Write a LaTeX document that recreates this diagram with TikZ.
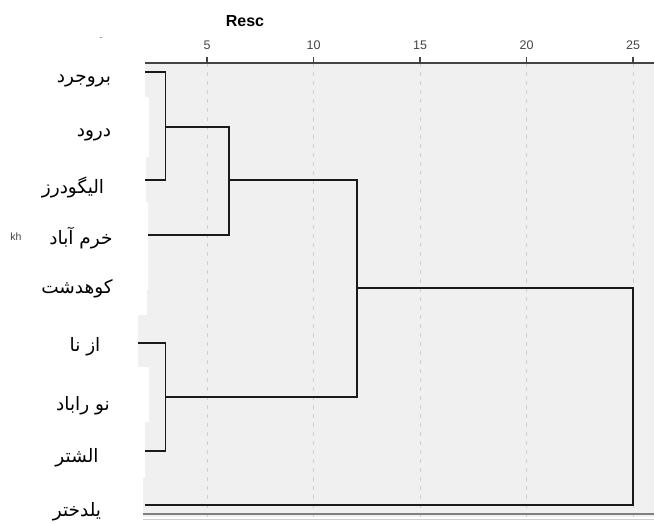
\documentclass[tikz,border=0pt]{standalone}
\usepackage{fontspec}
\setmainfont{Liberation Sans}
\newfontfamily\arabicfont[Script=Arabic]{DejaVu Sans}
\TeXXeTstate=1
\definecolor{plotbg}{HTML}{F0F0F0}
\definecolor{gridc}{HTML}{CFCFCF}
\definecolor{axisc}{HTML}{444444}
\definecolor{treec}{HTML}{1A1A1A}
\tikzset{
  leaflabel/.style={font=\arabicfont\fontsize{18.5}{20}\selectfont, inner sep=0pt, text=black},
  ticklabel/.style={font=\fontsize{12.5}{14}\selectfont, inner sep=0pt, text=axisc},
  gridline/.style={draw=gridc, line width=1pt, dash pattern=on 4pt off 5pt},
  tickmark/.style={draw=axisc, line width=1.5pt},
  branch/.style={draw=treec, line width=1.4pt},
  blank/.style={fill=white, draw=none},
}
\newcommand{\rtl}[1]{\arabicfont\beginR #1\endR}
\begin{document}
\begin{tikzpicture}[x=1pt,y=-1pt]
\useasboundingbox (0,0) rectangle (654,524);

% plot background with white strips along its left edge
\fill[plotbg] (138,63) rectangle (654,517);
\fill[blank] (138,63) rectangle (145,97);
\fill[blank] (138,97) rectangle (149,157);
\fill[blank] (138,157) rectangle (146,202);
\fill[blank] (138,202) rectangle (148,290);
\fill[blank] (138,290) rectangle (147,315);
\fill[blank] (138,367) rectangle (149,422);
\fill[blank] (138,422) rectangle (145,478);
\fill[blank] (138,478) rectangle (143,524);

% rescaled distance axis: x = 100.5 + 21.3 v
\foreach \v/\lab in {5/5,10/10,15/15,20/20,25/25}{
  \coordinate (g\v) at ({100.5+21.3*\v},63);
  \coordinate (gb\v) at ({100.5+21.3*\v},517);
  \coordinate (gt\v) at ({100.5+21.3*\v},57);
  \draw[gridline] (g\v) -- (gb\v);
  \draw[tickmark] (gt\v) -- (g\v);
  \node[ticklabel] (t\v) at ({100.5+21.3*\v},45) {\lab};
}
\coordinate (axL) at (145,63);
\coordinate (axR) at (654,63);
\draw[draw=axisc, line width=1.5pt] (axL) -- (axR);

% lower frame lines
\coordinate (fbL) at (143,514);
\coordinate (fbR) at (654,514);
\draw[draw=gray, line width=1.5pt] (fbL) -- (fbR);
\coordinate (flL) at (143,519);
\coordinate (flR) at (654,519);
\draw[draw=gridc, line width=1pt] (flL) -- (flR);

% title and stray marks
\node[font=\bfseries\fontsize{16}{18}\selectfont, inner sep=0pt] (title) at (245,21) {Resc};
\node[font=\fontsize{10}{12}\selectfont, inner sep=0pt, text=gray] (dashmark) at (101,39) {-};
\node[font=\fontsize{10.5}{12}\selectfont, inner sep=0pt, text=axisc] (kh) at (16,237) {kh};

% leaf labels
\node[leaflabel] (l1) at (84,81) {\rtl{بروجرد}};
\node[leaflabel] (l2) at (94,135) {\rtl{درود}};
\node[leaflabel] (l3) at (73,187) {\rtl{اليگودرز}};
\node[leaflabel] (l4) at (81,238) {\rtl{خرم آباد}};
\node[leaflabel] (l5) at (77,289) {\rtl{کوهدشت}};
\node[leaflabel] (l6) at (85,347) {\rtl{از نا}};
\node[leaflabel] (l7) at (83,406) {\rtl{نو راباد}};
\node[leaflabel] (l8) at (77,458) {\rtl{الشتر}};
\node[leaflabel] (l9) at (77,512) {\rtl{يلدختر}};

% leaf ends
\coordinate (e1) at (145,72);
\coordinate (e3) at (145,180);
\coordinate (e4) at (148,235);
\coordinate (e6) at (138,343);
\coordinate (e8) at (145,451);
\coordinate (e9) at (145,505);

% merge levels 3, 6, 12, 25
\coordinate (a1) at (165.7,72);
\coordinate (a3) at (165.7,180);
\coordinate (am) at (165.7,127);
\coordinate (b1) at (229,127);
\coordinate (b4) at (229,235);
\coordinate (bm) at (229,180);
\coordinate (c1) at (357,180);
\coordinate (c2) at (357,397);
\coordinate (cm) at (357,288);
\coordinate (d1) at (633,288);
\coordinate (d9) at (633,505);
\coordinate (p6) at (165.7,343);
\coordinate (p8) at (165.7,451);
\coordinate (pm) at (165.7,397);

\draw[branch] (e1) -- (a1) -- (a3) -- (e3);
\draw[branch] (am) -- (b1) -- (b4) -- (e4);
\draw[branch] (bm) -- (c1) -- (c2) -- (pm);
\draw[branch] (e6) -- (p6) -- (p8) -- (e8);
\draw[branch] (cm) -- (d1) -- (d9) -- (e9);
\end{tikzpicture}
\end{document}
